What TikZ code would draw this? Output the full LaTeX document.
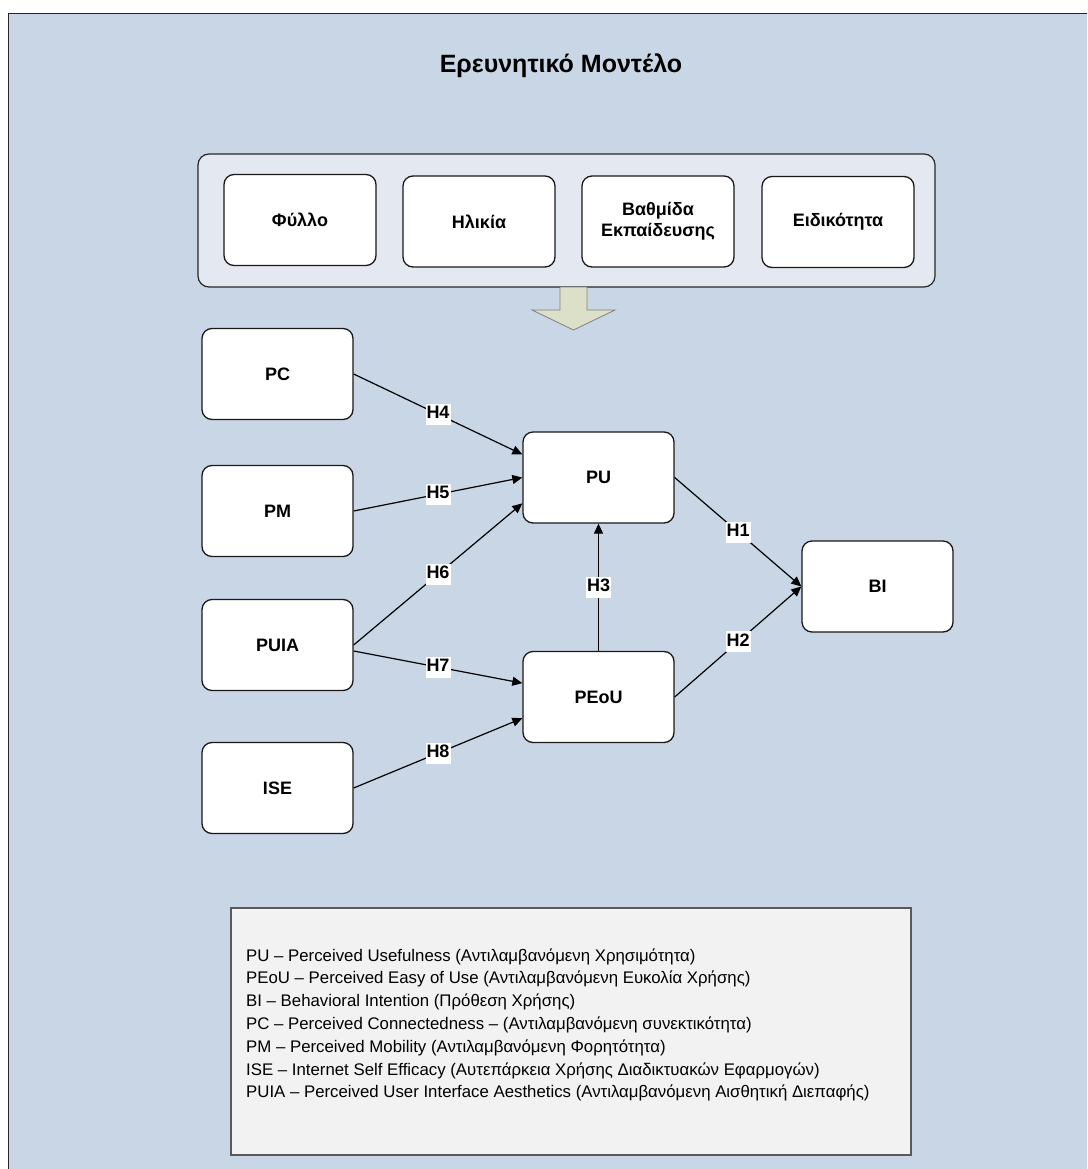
\documentclass[tikz,border=0pt]{standalone}
\usepackage{fontspec}
\setmainfont{Liberation Sans}
\usetikzlibrary{arrows.meta,calc}
\definecolor{bgblue}{RGB}{201,214,229}
\definecolor{grpfill}{RGB}{228,233,241}
\definecolor{arrfill}{RGB}{221,224,201}
\definecolor{legfill}{RGB}{242,242,242}
\tikzset{
  box/.style={draw=black!90, line width=1.3pt, rounded corners=10pt, fill=white,
    minimum width=151pt, minimum height=91pt, inner sep=0pt, align=center,
    font=\bfseries\fontsize{18}{21}\selectfont},
  hyp/.style={fill=white, inner xsep=1pt, inner ysep=1pt, text height=14pt, text depth=5pt,
    font=\bfseries\fontsize{18}{18}\selectfont},
  conn/.style={line width=1.2pt, -{Triangle[length=10pt,width=9pt]}}
}
\begin{document}
\begin{tikzpicture}[x=1pt,y=-1pt]
\useasboundingbox (0,0) rectangle (1087,1169);
\clip (0,0) rectangle (1087,1169);
% frame
\draw[fill=bgblue, draw=black!85, line width=1.4pt] (8.5,13.5) rectangle (1100,1185);
\node[anchor=base, inner sep=0pt, font=\bfseries\fontsize{25}{28}\selectfont] (title) at (561,73) {Ερευνητικό Μοντέλο};
% group
\node[draw=black!85, line width=1.2pt, fill=grpfill, rounded corners=11pt,
  minimum width=737pt, minimum height=133pt, inner sep=0pt] (grp) at (566.5,220.5) {};
\node[box, minimum width=152pt] (fyllo) at (300,220) {Φύλλο};
\node[box, minimum width=152pt] (ilikia) at (479,221.5) {Ηλικία};
\node[box, minimum width=152pt] (vathm) at (658,221.5) {Βαθμίδα\\Εκπαίδευσης};
\node[box, minimum width=152pt] (eidik) at (838,222) {Ειδικότητα};
% block arrow
\draw[draw=black!50, line width=0.8pt, fill=arrfill]
  (560,287) -- (587,287) -- (587,310) -- (615,310) -- (573.5,330) -- (532,310) -- (560,310) -- cycle;
% constructs
\node[box] (PC) at (277.5,374) {PC};
\node[box] (PM) at (277.5,511) {PM};
\node[box] (PUIA) at (277.5,645) {PUIA};
\node[box] (ISE) at (277.5,788) {ISE};
\node[box] (PU) at (598.5,477.5) {PU};
\node[box] (PEoU) at (598.5,697) {PEoU};
\node[box] (BI) at (877.5,586.5) {BI};
% connectors
\draw[conn] (PC.east) -- ($(PU.north west)!0.25!(PU.south west)$) node[hyp, pos=0.5] {H4};
\draw[conn] (PM.east) -- (PU.west) node[hyp, pos=0.5] {H5};
\draw[conn] (PUIA.east) -- ($(PU.north west)!0.78!(PU.south west)$) node[hyp, pos=0.5] {H6};
\draw[conn] ($(PUIA.north east)!0.565!(PUIA.south east)$) -- ($(PEoU.north west)!0.35!(PEoU.south west)$) node[hyp, pos=0.5] {H7};
\draw[conn] (ISE.east) -- ($(PEoU.north west)!0.73!(PEoU.south west)$) node[hyp, pos=0.5] {H8};
\draw[conn] (PEoU.north) -- (PU.south) node[hyp, pos=0.5] {H3};
\draw[conn] (PU.east) -- (BI.west) node[hyp, pos=0.5] {H1};
\draw[conn] (PEoU.east) -- (BI.west) node[hyp, pos=0.5] {H2};
% legend
\node[draw=black!65, line width=1.2pt, fill=legfill, minimum width=680pt, minimum height=247pt,
  inner sep=0pt] (leg) at (571,1031.5) {};
\node[anchor=west, align=left, inner sep=0pt, font=\fontsize{16.8}{22.8}\selectfont] (legtext) at (246,1025) {%
PU – Perceived Usefulness (Αντιλαμβανόμενη Χρησιμότητα)\\
PEoU – Perceived Easy of Use (Αντιλαμβανόμενη Ευκολία Χρήσης)\\
BI – Behavioral Intention (Πρόθεση Χρήσης)\\
PC – Perceived Connectedness – (Αντιλαμβανόμενη συνεκτικότητα)\\
PM – Perceived Mobility (Αντιλαμβανόμενη Φορητότητα)\\
ISE – Internet Self Efficacy (Αυτεπάρκεια Χρήσης Διαδικτυακών Εφαρμογών)\\
PUIA – Perceived User Interface Aesthetics (Αντιλαμβανόμενη Αισθητική Διεπαφής)};
\end{tikzpicture}
\end{document}
